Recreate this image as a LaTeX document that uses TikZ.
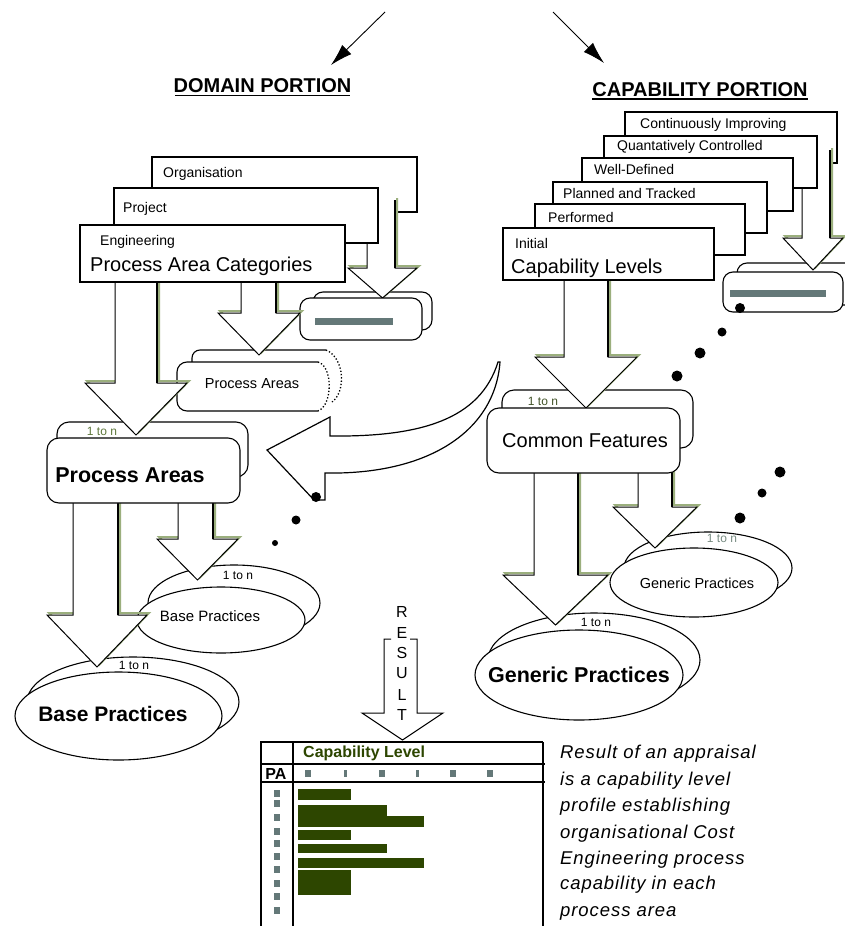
\documentclass[tikz,border=0pt]{standalone}
\usepackage{fontspec}
\setmainfont{Liberation Sans}
\usetikzlibrary{arrows.meta}
\definecolor{barg}{RGB}{45,70,0}
\definecolor{sqg}{RGB}{100,120,120}
\definecolor{shg}{RGB}{155,175,125}
\definecolor{olv}{RGB}{95,120,60}
\definecolor{gry}{RGB}{120,140,130}
\newcommand{\DArrow}[7]{%
 \draw[shg, line width=2pt, xshift=2pt, yshift=2pt] (#1,#3) -- (#1,#4) -- (#5,#4) -- ({(#5+#6)/2},#7) -- (#6,#4) -- (#2,#4) -- (#2,#3);
 \fill[white] (#1,#3) -- (#1,#4) -- (#5,#4) -- ({(#5+#6)/2},#7) -- (#6,#4) -- (#2,#4) -- (#2,#3) -- cycle;
 \draw[line width=1pt] (#1,#3) -- (#1,#4) -- (#5,#4) -- ({(#5+#6)/2},#7) -- (#6,#4) -- (#2,#4) -- (#2,#3);
 \draw[line width=2pt] (#2,#3) -- (#2,#4);
}
\tikzset{
  sbox/.style={draw, fill=white, line width=1.1pt},
  fbox/.style={draw, fill=white, line width=2pt},
  rbox/.style={draw, fill=white, line width=1.1pt, rounded corners=10pt},
  ebox/.style={draw, fill=white, line width=1.1pt},
  lbl/.style={inner sep=0pt, anchor=base west, font=\fontsize{14}{16}\selectfont},
  mainlbl/.style={inner sep=0pt, anchor=base, font=\fontsize{20}{24}\selectfont},
  mainbold/.style={inner sep=0pt, anchor=base, font=\fontsize{21.5}{24}\selectfont\bfseries},
  smalllbl/.style={inner sep=0pt, anchor=base, font=\fontsize{14.5}{16}\selectfont},
  onen/.style={inner sep=0pt, font=\fontsize{12}{14}\selectfont},
  title/.style={inner sep=0pt, anchor=base, font=\fontsize{20}{24}\selectfont\bfseries},
  topar/.style={line width=0.9pt, -{Latex[length=22pt,width=13pt]}},
}
\begin{document}
\begin{tikzpicture}[x=1pt,y=-1pt]
\useasboundingbox (0,0) rectangle (844,926);
\fill[white] (0,0) rectangle (844,926);

% top arrows
\coordinate (ls) at (385,12); \coordinate (le) at (331,65);
\draw[topar] (ls) -- (le);
\coordinate (rs) at (553,12); \coordinate (re) at (604,63);
\draw[topar] (rs) -- (re);

% titles
\node[title] (dom) at (262.5,92) {DOMAIN PORTION};
\draw[line width=1.5pt] (175,95.5) -- (350,95.5);
\node[title] (capt) at (700,96) {CAPABILITY PORTION};
\draw[line width=1.5pt] (592,99) -- (808,99);

% ================= DOMAIN =================
\draw[rbox] (313,292) rectangle (432,330);
\draw[sbox] (152,157) rectangle (417,212);
\node[lbl] (org) at (163,177) {Organisation};
\DArrow{367}{395}{200}{268}{348}{417}{298}
\draw[rbox] (300,298) rectangle (422,340);
\fill[sqg] (315,318) rectangle (393,325);
\draw[sbox] (114,188) rectangle (378,243);
\node[lbl] (proj) at (123,212) {Project};

% small Process Areas (back)
\fill[white] (192,350) rectangle (333,400);
\draw[line width=1.1pt, rounded corners=8pt] (192,366) |- (326,350);
\draw[line width=1.3pt, dotted] (326,350) .. controls (345,358) and (346,392) .. (332,402);
\DArrow{241}{276}{275}{313}{218}{300}{355}
% small Process Areas (front)
\fill[white, rounded corners=10pt] (177,362) rectangle (330,411);
\draw[line width=1.1pt, rounded corners=10pt] (318,362) -| (177,411) -- (318,411);
\draw[line width=1.3pt, dotted] (318,362) .. controls (333,366) and (333,405) .. (318,411);
\node[smalllbl] (pas) at (252,388) {Process Areas};

% big Process Areas (back)
\draw[rbox, rounded corners=12pt] (57,422) rectangle (248,477);
\DArrow{115}{157}{275}{383}{85}{187}{435}
\node[onen, text=olv] (n1) at (102,431) {1 to n};

% Engineering box (front of stack)
\draw[fbox] (80,225) rectangle (345,282);
\node[lbl] (eng) at (100,245) {Engineering};
\node[inner sep=0pt, anchor=base west, font=\fontsize{20}{24}\selectfont] (pac) at (90,271.5) {Process Area Categories};

% base practices
\draw[ebox] (234,603) ellipse [x radius=86, y radius=38];
\draw[ebox] (133,702) ellipse [x radius=106, y radius=45];
\DArrow{178}{213}{495}{539}{157}{238}{580}
\draw[ebox] (221,620) ellipse [x radius=84, y radius=33];
\node[inner sep=0pt, anchor=base, font=\fontsize{15}{16}\selectfont] (bps) at (210,621) {Base Practices};
\node[onen] (n2) at (238,575) {1 to n};
\DArrow{73}{118}{495}{615}{47}{147}{667}
\draw[ebox] (118.5,716) ellipse [x radius=103.5, y radius=44];
\node[inner sep=0pt, anchor=base, font=\fontsize{21}{24}\selectfont\bfseries] (bpb) at (113,721) {Base Practices};
\node[onen] (n3) at (134,665) {1 to n};

% big Process Areas (front)
\draw[rbox, rounded corners=12pt] (47,438) rectangle (240,503);
\node[mainbold] (pab) at (130,482) {Process Areas};

% curved arrow
\filldraw[fill=white, line width=1.2pt] (498,362) .. controls (480,420) and (420,437) .. (330,436) -- (330,417) -- (267,450) -- (314,500) -- (325,500) -- (325,473) .. controls (430,475) and (495,430) .. (500,362) -- cycle;
\fill (316,497) circle [radius=5];
\fill (296,520) circle [radius=4.5];
\fill (275,543) circle [radius=3];

% ================= CAPABILITY =================
\draw[rbox] (737,263) rectangle (856,305);
\draw[sbox] (625,112) rectangle (837,163);
\node[lbl] (ci) at (640,128) {Continuously Improving};
\DArrow{802}{830}{150}{238}{783}{843}{270}
\draw[rbox] (723,272) rectangle (843,312);
\fill[sqg] (730,290) rectangle (826,297);
\draw[sbox] (604,136) rectangle (817,188);
\node[lbl] (qc) at (617,150) {Quantatively Controlled};
\draw[sbox] (582,158) rectangle (793,211);
\node[lbl] (wd) at (594,174) {Well-Defined};
\draw[sbox] (553,182) rectangle (767,233);
\node[lbl] (pt) at (563,198) {Planned and Tracked};
\draw[sbox] (535,204) rectangle (745,255);
\node[lbl] (pf) at (548,222) {Performed};

% common features back, generic back
\draw[rbox, rounded corners=12pt] (502,390) rectangle (693,448);
\draw[ebox] (708,568) ellipse [x radius=84, y radius=36];
\draw[ebox] (594,660) ellipse [x radius=106, y radius=47];
\DArrow{564}{608}{275}{357}{535}{637}{408}
\DArrow{638}{672}{465}{507}{613}{697}{548}
\DArrow{534}{578}{465}{575}{503}{608}{625}

\draw[fbox] (503,228) rectangle (714,280);
\node[lbl] (ini) at (515,248) {Initial};
\node[inner sep=0pt, anchor=base west, font=\fontsize{20}{24}\selectfont] (cl) at (511,273.5) {Capability Levels};

\draw[ebox] (694,582.5) ellipse [x radius=84, y radius=34.5];
\node[smalllbl] (gps) at (697,588) {Generic Practices};
\node[onen, text=gry] (n4) at (722,538) {1 to n};
\draw[ebox] (579,675) ellipse [x radius=104, y radius=45];
\node[mainbold] (gpb) at (579,682) {Generic Practices};
\node[onen] (n5) at (596,622) {1 to n};

\draw[rbox, rounded corners=12pt] (487,408) rectangle (680,473);
\node[mainlbl] (cf) at (585,447) {Common Features};
\node[onen, text=olv!70!black] (n6) at (543,401) {1 to n};

% dots
\fill (740,308) circle [radius=5];
\fill (722,332) circle [radius=4.5];
\fill (700,353) circle [radius=5.5];
\fill (677,376) circle [radius=5.5];
\fill (780,472) circle [radius=5.5];
\fill (762,493) circle [radius=4.5];
\fill (740,518) circle [radius=5.5];

% ================= RESULT =================
\fill[white] (384,639) -- (384,713) -- (362,713) -- (402.5,740) -- (443,713) -- (417,713) -- (417,639) -- cycle;
\draw[line width=1pt] (391,639) -- (384,639) -- (384,713) -- (362,713) -- (402.5,740) -- (443,713) -- (417,713) -- (417,639) -- (410,639);
\foreach \ch/\yy [count=\i] in {R/612,E/633,S/653,U/673,L/695,T/715}
  \node[inner sep=0pt, font=\fontsize{16}{18}\selectfont] (res\i) at (402,\yy) {\ch};

% chart
\draw[line width=1.5pt] (543,742) -- (543,926);
\draw[line width=2pt] (261,926) -- (261,742) -- (543,742);
\draw[line width=2.5pt] (293,742) -- (293,926);
\draw[line width=1.2pt] (261,764) -- (545,764);
\draw[line width=2pt] (261,782) -- (545,782);
\node[inner sep=0pt, anchor=west, font=\fontsize{16}{18}\selectfont\bfseries, text=barg] (clh) at (303,753) {Capability Level};
\node[inner sep=0pt, font=\fontsize{16}{18}\selectfont\bfseries] (pa) at (276,774) {PA};
\foreach \xx/\ww in {308/3,345/1.5,382/3,417/1.5,453/3,490/3}
  \fill[sqg] (\xx-\ww,770) rectangle (\xx+\ww,777);
\foreach \yy in {793,803,817,831,843,856,869,883,896,910}
  \fill[sqg] (274,\yy-3.5) rectangle (280,\yy+3.5);
\fill[barg] (298,789) rectangle (351,800);
\fill[barg] (298,805) rectangle (387,827);
\fill[barg] (387,816) rectangle (424,827);
\fill[barg] (298,830) rectangle (351,840);
\fill[barg] (298,844) rectangle (387,853);
\fill[barg] (298,858) rectangle (424,868);
\fill[barg] (298,870) rectangle (351,895);

% description
\foreach \txt/\yy [count=\i] in {Result of an appraisal/758,is a capability level/785,profile establishing/811,organisational Cost/838,Engineering process/864,capability in each/889,process area/916}
  \node[inner sep=0pt, anchor=base west, font=\fontsize{18.5}{22}\selectfont\itshape\addfontfeatures{LetterSpace=5}] (d\i) at (560,\yy) {\txt};
\end{tikzpicture}
\end{document}
